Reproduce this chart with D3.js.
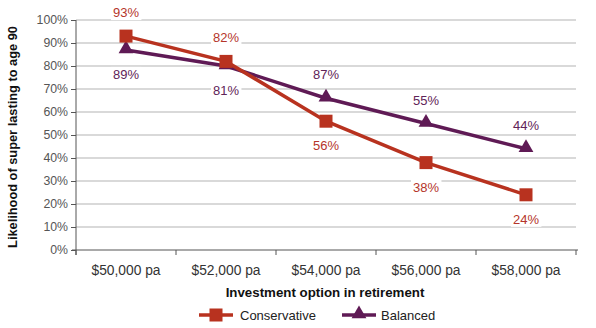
<!DOCTYPE html>
<html><head><meta charset="utf-8">
<script src="https://cdn.jsdelivr.net/npm/d3@7"></script>
<style>body{margin:0;background:#fff}svg{display:block;font-family:"Liberation Sans",Arial,sans-serif}</style>
</head><body><svg id="c" width="596" height="328"></svg>
<script>
const categories = ["$50,000 pa","$52,000 pa","$54,000 pa","$56,000 pa","$58,000 pa"];
const conservative = [93, 82, 56, 38, 24];
const conservativeLabels = ["93%","82%","56%","38%","24%"];
const conservativeLabelSide = ["above","above","below","below","below"];
const balanced = [87, 80, 66, 55, 44];
const balancedLabels = ["89%","81%","87%","55%","44%"];
const balancedLabelSide = ["below","below","above","above","above"];
const yTicks = [0,10,20,30,40,50,60,70,80,90,100];

const cRed = "#B8321F", cPurple = "#5F1A55";
const svg = d3.select("#c");
const L = 76, R = 576, T = 20, B = 250;
const x = d3.scaleBand().domain(categories).range([L, R]);
const y = d3.scaleLinear().domain([0,100]).range([B, T]);

// gridlines
svg.append("g").selectAll("line").data(yTicks.filter(d=>d>0)).join("line")
  .attr("x1", L).attr("x2", R).attr("y1", d=>y(d)).attr("y2", d=>y(d))
  .attr("stroke", "#d9d9d9").attr("stroke-width", 2);

// y axis
const ya = svg.append("g").attr("transform", `translate(${L},0)`)
  .call(d3.axisLeft(y).tickValues(yTicks).tickFormat(d=>d+"%").tickSize(5).tickPadding(3));
ya.select(".domain").attr("stroke","#555").attr("d", `M0,${T}V${B+5}`);
ya.selectAll(".tick line").attr("stroke","#555");
ya.selectAll("text").attr("font-size", 12.3).attr("fill","#555");

// x axis
const xa = svg.append("g").attr("transform", `translate(0,${B})`)
  .call(d3.axisBottom(x).tickSize(0).tickPadding(15));
xa.select(".domain").attr("stroke","#555").attr("d", `M${L-4},0H${R+2}`);
xa.selectAll("text").attr("font-size", 13.8).attr("fill","#333");
xa.selectAll("line.tk").data(categories.concat([null])).join("line").attr("class","tk")
  .attr("x1",(d,i)=>L + i*x.bandwidth()).attr("x2",(d,i)=>L + i*x.bandwidth())
  .attr("y1",0).attr("y2",5).attr("stroke","#555");

// axis titles
svg.append("text").attr("transform", `translate(17,${(T+B)/2+2}) rotate(-90)`)
  .attr("text-anchor","middle").attr("font-weight","bold").attr("font-size",12.8).attr("fill","#111")
  .text("Likelihood of super lasting to age 90");
svg.append("text").attr("x", (L+R)/2 - 1).attr("y", 297).attr("text-anchor","middle")
  .attr("font-weight","bold").attr("font-size",13.3).attr("fill","#111").text("Investment option in retirement");

const cx = d => x(d) + x.bandwidth()/2;
const line = d3.line().x(d=>cx(d[0])).y(d=>y(d[1]));
const tri = d3.symbol().type(d3.symbolTriangle).size(95);

function series(vals, color, marker) {
  const pts = categories.map((c,i)=>[c, vals[i]]);
  svg.append("path").datum(pts).attr("d", line).attr("fill","none")
    .attr("stroke", color).attr("stroke-width", 3.5);
  const g = svg.append("g");
  if (marker === "square") {
    g.selectAll("rect").data(pts).join("rect")
      .attr("x", d=>cx(d[0])-6.5).attr("y", d=>y(d[1])-6.5).attr("width",13).attr("height",13)
      .attr("fill", color);
  } else {
    g.selectAll("path").data(pts).join("path").attr("d", tri)
      .attr("transform", d=>`translate(${cx(d[0])},${y(d[1])-1})`).attr("fill", color);
  }
}
series(balanced, cPurple, "tri");
series(conservative, cRed, "square");

function labels(vals, labs, sides, color) {
  categories.forEach((c,i)=>{
    const yy = y(vals[i]) + (sides[i]==="above" ? -19 : 29);
    const t = svg.append("text").attr("x", cx(c)).attr("y", yy).attr("text-anchor","middle")
      .attr("font-size", 13).attr("fill", color).text(labs[i]);
    const bb = t.node().getBBox();
    svg.insert("rect", () => t.node()).attr("x", bb.x-2).attr("y", bb.y).attr("width", bb.width+4)
      .attr("height", bb.height).attr("fill","#fff");
  });
}
labels(conservative, conservativeLabels, conservativeLabelSide, "#B5352A");
labels(balanced, balancedLabels, balancedLabelSide, "#5F2358");

// legend
const lg = svg.append("g").attr("transform","translate(0,315)");
lg.append("line").attr("x1",199).attr("x2",233).attr("stroke",cRed).attr("stroke-width",3.5);
lg.append("rect").attr("x",209.5).attr("y",-6.5).attr("width",13).attr("height",13).attr("fill",cRed);
lg.append("text").attr("x",240).attr("y",4.5).attr("font-size",13).attr("fill","#222").text("Conservative");
lg.append("line").attr("x1",342).attr("x2",376).attr("stroke",cPurple).attr("stroke-width",3.5);
lg.append("path").attr("d",tri).attr("transform","translate(359,-1)").attr("fill",cPurple);
lg.append("text").attr("x",381).attr("y",4.5).attr("font-size",13).attr("fill","#222").text("Balanced");
</script></body></html>
